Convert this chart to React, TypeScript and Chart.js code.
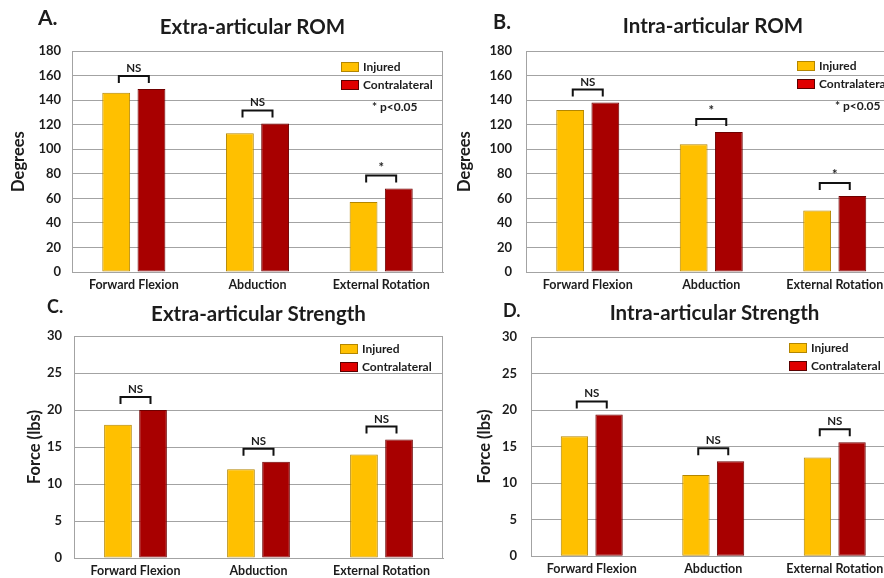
import React, { useEffect, useRef } from "react";
import { Chart, registerables } from "chart.js";

Chart.register(...registerables);

// ---------- data ----------
const categories = ["Forward Flexion", "Abduction", "External Rotation"];
const seriesNames = ["Injured", "Contralateral"];

const extraRomInjured = [146, 113, 57];
const extraRomContra = [149, 121, 68];
const extraRomSig = ["NS", "NS", "*"];

const intraRomInjured = [132, 104, 50];
const intraRomContra = [138, 114, 62];
const intraRomSig = ["NS", "*", "*"];

const extraStrInjured = [18, 12, 14];
const extraStrContra = [20, 13, 16];
const extraStrSig = ["NS", "NS", "NS"];

const intraStrInjured = [16.4, 11.1, 13.5];
const intraStrContra = [19.4, 13, 15.6];
const intraStrSig = ["NS", "NS", "NS"];

const romAxis = { min: 0, max: 180, step: 20 };
const strengthAxis = { min: 0, max: 30, step: 5 };
const pNoteText = "* p<0.05";

// ---------- styles ----------
const FONT = "Lato, 'Open Sans', sans-serif";
const TEXT = "#1c1c1c";
const GRID = "#a3a3a3";
const INJ_FILL = "#FFC000";
const INJ_BORDER = "#B38600";
const CON_FILL = "#A80000";
const CON_BORDER = "#6E0000";
const CON_LEGEND = "#E00000";

type Panel = {
  letter: string;
  title: string;
  yTitle: string;
  injured: number[];
  contra: number[];
  sig: string[];
  axis: { min: number; max: number; step: number };
  box: { left: number; top: number; w: number; h: number };
  area: { left: number; right: number; top: number; bottom: number };
  yTitlePad: number;
  tickPad: number;
  letterPos: { x: number; y: number; size: number };
  titlePos: { x: number; y: number; size: number };
  legend: { dx: number; dy: number };
  pNote?: { dx: number; dy: number };
};

const panels: Panel[] = [
  {
    letter: "A.",
    title: "Extra-articular ROM",
    yTitle: "Degrees",
    injured: extraRomInjured,
    contra: extraRomContra,
    sig: extraRomSig,
    axis: romAxis,
    box: { left: 0, top: 0, w: 450, h: 295 },
    area: { left: 72, right: 443, top: 51, bottom: 272 },
    yTitlePad: 9,
    tickPad: 11,
    letterPos: { x: 38, y: 25, size: 21 },
    titlePos: { x: 252.5, y: 34, size: 20.5 },
    legend: { dx: -102, dy: 11 },
    pNote: { dx: -71, dy: 60 },
  },
  {
    letter: "B.",
    title: "Intra-articular ROM",
    yTitle: "Degrees",
    injured: intraRomInjured,
    contra: intraRomContra,
    sig: intraRomSig,
    axis: romAxis,
    box: { left: 445, top: 0, w: 460, h: 295 },
    area: { left: 81, right: 451.5, top: 51, bottom: 272 },
    yTitlePad: 10.4,
    tickPad: 14,
    letterPos: { x: 48, y: 29, size: 20 },
    titlePos: { x: 268, y: 33, size: 20.5 },
    legend: { dx: -99.5, dy: 10 },
    pNote: { dx: -61.5, dy: 59 },
  },
  {
    letter: "C.",
    title: "Extra-articular Strength",
    yTitle: "Force (lbs)",
    injured: extraStrInjured,
    contra: extraStrContra,
    sig: extraStrSig,
    axis: strengthAxis,
    box: { left: 0, top: 295, w: 450, h: 283 },
    area: { left: 74, right: 443, top: 41, bottom: 263 },
    yTitlePad: 25.4,
    tickPad: 12,
    letterPos: { x: 47, y: 18, size: 18 },
    titlePos: { x: 258.5, y: 26, size: 20.5 },
    legend: { dx: -103, dy: 8 },
  },
  {
    letter: "D.",
    title: "Intra-articular Strength",
    yTitle: "Force (lbs)",
    injured: intraStrInjured,
    contra: intraStrContra,
    sig: intraStrSig,
    axis: strengthAxis,
    box: { left: 445, top: 295, w: 460, h: 283 },
    area: { left: 86, right: 450.5, top: 42, bottom: 262 },
    yTitlePad: 30,
    tickPad: 14,
    letterPos: { x: 58, y: 22, size: 18 },
    titlePos: { x: 269.5, y: 25, size: 20.5 },
    legend: { dx: -106.5, dy: 6 },
  },
];

function decorPlugin(p: Panel) {
  return {
    id: "decor",
    afterDatasetsDraw(chart: any) {
      const { ctx, chartArea: a, scales } = chart;
      const xs = scales.x;
      const ys = scales.y;
      ctx.save();
      // right frame line
      ctx.strokeStyle = GRID;
      ctx.lineWidth = 1;
      ctx.beginPath();
      ctx.moveTo(Math.round(a.right) - 0.5, a.top);
      ctx.lineTo(Math.round(a.right) - 0.5, a.bottom);
      ctx.stroke();

      // significance brackets
      p.sig.forEach((s, i) => {
        const cx = xs.getPixelForValue(i);
        const top = ys.getPixelForValue(Math.max(p.injured[i], p.contra[i]));
        const yEnd = top - 6;
        const yBar = top - 13;
        ctx.strokeStyle = "#111";
        ctx.lineWidth = 2;
        ctx.beginPath();
        ctx.moveTo(cx - 15, yEnd);
        ctx.lineTo(cx - 15, yBar);
        ctx.lineTo(cx + 15, yBar);
        ctx.lineTo(cx + 15, yEnd);
        ctx.stroke();
        ctx.fillStyle = TEXT;
        ctx.font = `bold ${s === "*" ? 13 : 11.5}px ${FONT}`;
        ctx.textAlign = "center";
        ctx.textBaseline = "alphabetic";
        ctx.fillText(s, cx, yBar - 4);
      });

      // legend
      const lx = a.right + p.legend.dx;
      const ly = a.top + p.legend.dy;
      const fills = [INJ_FILL, CON_LEGEND];
      const borders = [INJ_BORDER, "#5a0000"];
      seriesNames.forEach((name, k) => {
        const sy = ly + k * 18;
        ctx.fillStyle = fills[k];
        ctx.fillRect(lx, sy, 18, 10);
        ctx.strokeStyle = borders[k];
        ctx.lineWidth = 1;
        ctx.strokeRect(lx + 0.5, sy + 0.5, 17, 9);
        ctx.fillStyle = TEXT;
        ctx.font = `bold 12px ${FONT}`;
        ctx.textAlign = "left";
        ctx.textBaseline = "middle";
        ctx.fillText(name, lx + 22, sy + 5);
      });

      if (p.pNote) {
        ctx.fillStyle = TEXT;
        ctx.font = `bold 12px ${FONT}`;
        ctx.textAlign = "left";
        ctx.textBaseline = "alphabetic";
        ctx.fillText(pNoteText, a.right + p.pNote.dx, a.top + p.pNote.dy);
      }
      ctx.restore();
    },
    afterDraw(chart: any) {
      const { ctx } = chart;
      ctx.save();
      ctx.fillStyle = TEXT;
      ctx.textBaseline = "alphabetic";
      ctx.font = `bold ${p.letterPos.size}px ${FONT}`;
      ctx.textAlign = "left";
      ctx.fillText(p.letter, p.letterPos.x, p.letterPos.y);
      ctx.font = `bold ${p.titlePos.size}px ${FONT}`;
      ctx.textAlign = "center";
      ctx.fillText(p.title, p.titlePos.x, p.titlePos.y);
      ctx.restore();
    },
  };
}

function makeChart(canvas: HTMLCanvasElement, p: Panel) {
  const { w, h } = p.box;
  return new Chart(canvas, {
    type: "bar",
    data: {
      labels: categories,
      datasets: [
        {
          label: seriesNames[0],
          data: p.injured,
          backgroundColor: INJ_FILL,
          borderColor: INJ_BORDER,
          borderWidth: 1,
          borderSkipped: false,
        },
        {
          label: seriesNames[1],
          data: p.contra,
          backgroundColor: CON_FILL,
          borderColor: CON_BORDER,
          borderWidth: 1,
          borderSkipped: false,
        },
      ],
    },
    options: {
      responsive: false,
      animation: false,
      devicePixelRatio: 1,
      datasets: {
        bar: { categoryPercentage: 0.57, barPercentage: 0.79 },
      },
      layout: {
        padding: { left: 0, right: w - p.area.right, top: p.area.top, bottom: 0 },
      },
      plugins: {
        legend: { display: false },
        title: { display: false },
        tooltip: { enabled: false },
      },
      scales: {
        x: {
          grid: { display: false, drawTicks: false },
          border: { display: true, color: GRID, width: 1 },
          ticks: {
            color: TEXT,
            padding: 5,
            font: { family: FONT, size: 12.5, weight: "bold" },
            maxRotation: 0,
            autoSkip: false,
          },
          afterFit: (s: any) => {
            s.height = h - p.area.bottom;
          },
        },
        y: {
          min: p.axis.min,
          max: p.axis.max,
          grid: { color: GRID, lineWidth: 1, drawTicks: false },
          border: { display: true, color: GRID, width: 1 },
          ticks: {
            stepSize: p.axis.step,
            color: TEXT,
            padding: p.tickPad,
            font: { family: FONT, size: 13, weight: "bold" },
          },
          title: {
            display: true,
            text: p.yTitle,
            color: TEXT,
            font: { family: FONT, size: 16.5, weight: "bold", lineHeight: 1.2 },
            padding: { top: p.yTitlePad - 0.3, bottom: 0 },
          },
          afterFit: (s: any) => {
            s.width = p.area.left;
          },
        },
      },
    },
    plugins: [decorPlugin(p)],
  } as any);
}

export default function App() {
  const refs = useRef<(HTMLCanvasElement | null)[]>([]);

  useEffect(() => {
    const charts = panels.map((p, i) => makeChart(refs.current[i] as HTMLCanvasElement, p));
    return () => charts.forEach((c) => c.destroy());
  }, []);

  return (
    <div
      style={{
        position: "fixed",
        left: 0,
        top: 0,
        width: 884,
        height: 578,
        overflow: "hidden",
        background: "#fff",
      }}
    >
      {panels.map((p, i) => (
        <canvas
          key={p.letter}
          ref={(el) => {
            refs.current[i] = el;
          }}
          width={p.box.w}
          height={p.box.h}
          style={{
            position: "absolute",
            left: p.box.left,
            top: p.box.top,
            width: p.box.w,
            height: p.box.h,
          }}
        />
      ))}
    </div>
  );
}
